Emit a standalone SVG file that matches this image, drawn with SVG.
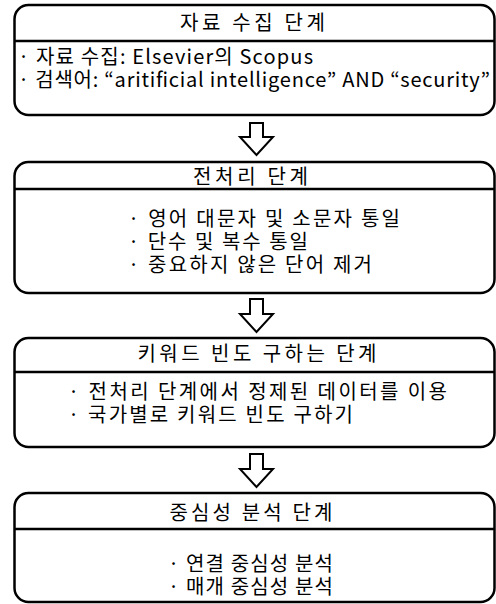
<svg xmlns="http://www.w3.org/2000/svg" width="496" height="604" viewBox="0 0 496 604">
<style>
.box{fill:#fff;stroke:#000;stroke-width:2.5}
.div{stroke:#000;stroke-width:2.5}
.arr{fill:#fff;stroke:#000;stroke-width:2;stroke-linejoin:miter}
text{font-family:"Noto Sans CJK KR","Noto Sans",sans-serif;font-size:20px;fill:#000}
.t{text-anchor:middle}
</style>
<rect width="496" height="604" fill="#fff"/>
<g id="connectors">
<polygon class="arr" points="250,123 263,123 263,137 273,137 256.5,155 240,137 250,137"/>
<polygon class="arr" points="250,299 263,299 263,314 273,314 256.5,332 240,314 250,314"/>
<polygon class="arr" points="250,454 263,454 263,469 273,469 256.5,487 240,469 250,469"/>
</g>
<g id="node1">
<rect class="box" x="14.5" y="5" width="480" height="110" rx="14"/>
<line class="div" x1="14.5" y1="41" x2="494.5" y2="41"/>
<text class="t" x="252.5" y="30" textLength="145">자료 수집 단계</text>
<text x="18" y="64" textLength="295">· 자료 수집: Elsevier의 Scopus</text>
<text x="18" y="87" textLength="472">· 검색어: “aritificial intelligence” AND “security”</text>
</g>
<g id="node2">
<rect class="box" x="14.5" y="162" width="480" height="131" rx="14"/>
<line class="div" x1="14.5" y1="189" x2="494.5" y2="189"/>
<text class="t" x="250.5" y="184" textLength="115">전처리 단계</text>
<text x="128" y="226" textLength="272">· 영어 대문자 및 소문자 통일</text>
<text x="128" y="249" textLength="180">· 단수 및 복수 통일</text>
<text x="128" y="272" textLength="244">· 중요하지 않은 단어 제거</text>
</g>
<g id="node3">
<rect class="box" x="14.5" y="338" width="480" height="109" rx="14"/>
<line class="div" x1="14.5" y1="372" x2="494.5" y2="372"/>
<text class="t" x="257" y="361" textLength="239">키워드 빈도 구하는 단계</text>
<text x="68" y="399" textLength="379">· 전처리 단계에서 정제된 데이터를 이용</text>
<text x="68" y="422" textLength="285">· 국가별로 키워드 빈도 구하기</text>
</g>
<g id="node4">
<rect class="box" x="14.5" y="493" width="480" height="109" rx="14"/>
<line class="div" x1="14.5" y1="529" x2="494.5" y2="529"/>
<text class="t" x="251" y="520" textLength="163">중심성 분석 단계</text>
<text x="168" y="571" textLength="165">· 연결 중심성 분석</text>
<text x="168" y="594" textLength="165">· 매개 중심성 분석</text>
</g>
</svg>
